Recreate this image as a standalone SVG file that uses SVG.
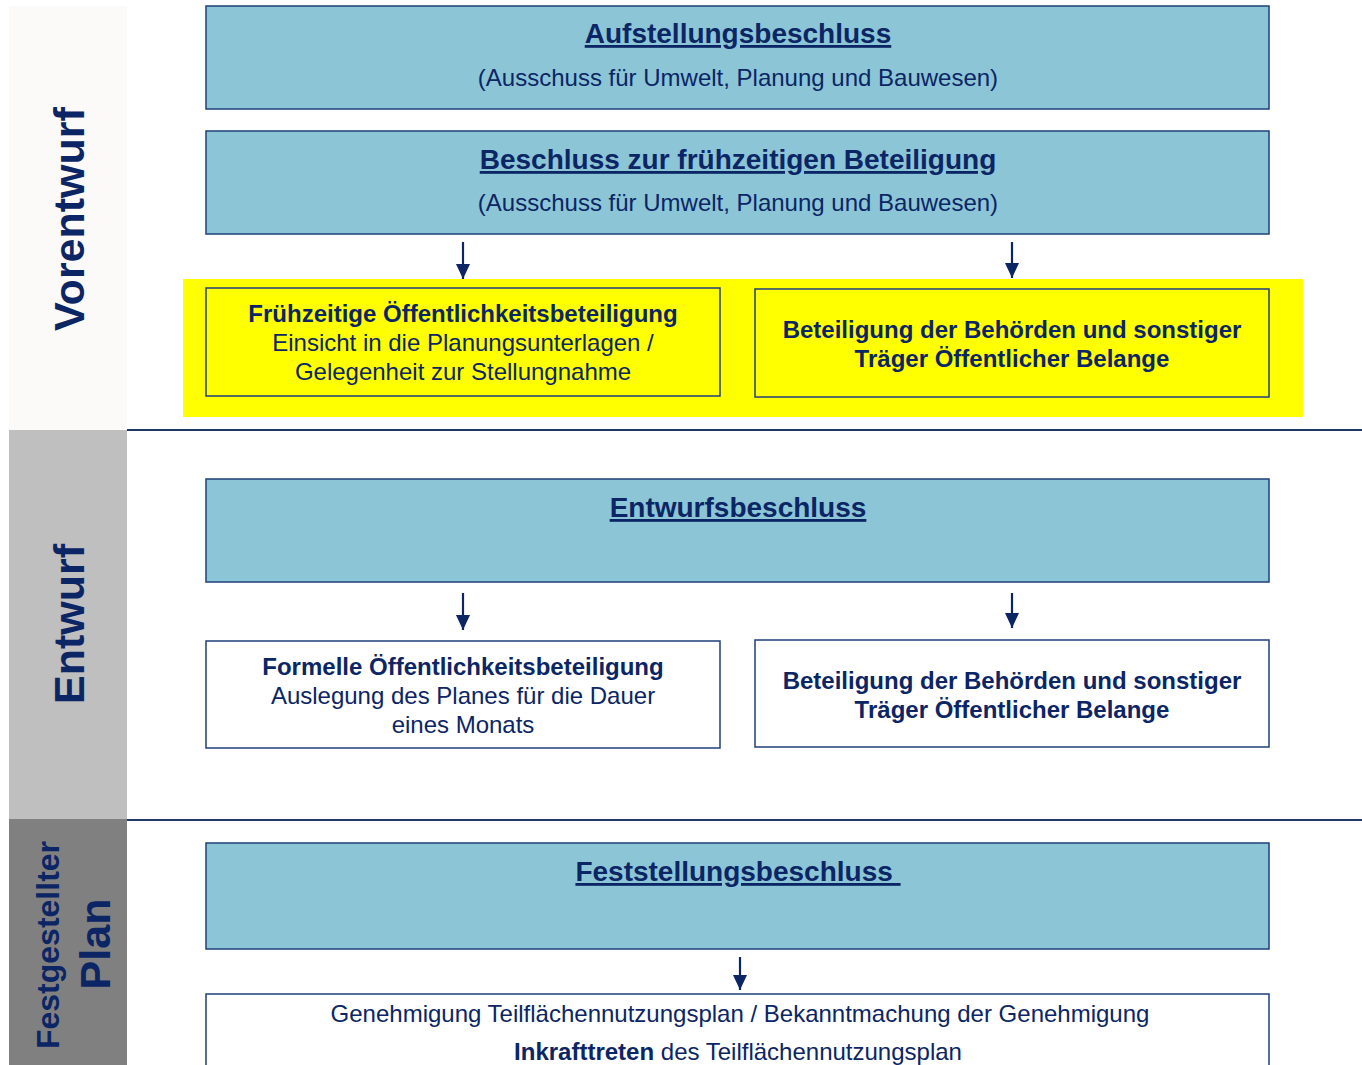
<svg xmlns="http://www.w3.org/2000/svg" width="1362" height="1065" viewBox="0 0 1362 1065">
<style>
.t{font-family:"Liberation Sans",Arial,sans-serif;fill:#0B2565;text-anchor:middle}
.title{font-size:28px;font-weight:bold;text-decoration:underline}
.sub{font-size:24px}
.b{font-size:24px;font-weight:bold}
.r{font-size:24px}
.blue{fill:#8CC5D6;stroke:#1F3F7A;stroke-width:1.5}
.white{fill:#FFFFFF;stroke:#1F3F7A;stroke-width:1.5}
.conn{stroke:#0B2565;stroke-width:2.2;fill:none}
.band{font-family:"Liberation Sans",Arial,sans-serif;fill:#0B2565;font-weight:bold;text-anchor:middle}
</style>
<defs>
<marker id="ah" markerUnits="userSpaceOnUse" markerWidth="16" markerHeight="16" refX="15" refY="7" orient="auto" viewBox="0 0 16 14">
<path d="M0,0 L15,7 L0,14 Z" fill="#0B2565"/>
</marker>
</defs>
<rect width="1362" height="1065" fill="#FFFFFF"/>
<g id="bands">
<rect x="9" y="6" width="118" height="424" fill="#FBFAF8"/>
<rect x="9" y="430" width="118" height="389" fill="#BFBFBF"/>
<rect x="9" y="819" width="118" height="246" fill="#808080"/>
<text class="band" font-size="43" transform="translate(84,219) rotate(-90)">Vorentwurf</text>
<text class="band" font-size="43" transform="translate(84,624) rotate(-90)">Entwurf</text>
<text class="band" font-size="32" transform="translate(59,945) rotate(-90)">Festgestellter</text>
<text class="band" font-size="43" transform="translate(110,944) rotate(-90)">Plan</text>
<line x1="127" y1="430" x2="1362" y2="430" stroke="#1F3864" stroke-width="2"/>
<line x1="127" y1="820" x2="1362" y2="820" stroke="#1F3864" stroke-width="2"/>
</g>
<rect id="highlight" x="183" y="279" width="1120" height="138" fill="#FFFF00"/>
<g id="n1">
<rect class="blue" x="206" y="6" width="1063" height="103"/>
<text class="t title" x="738" y="43">Aufstellungsbeschluss</text>
<text class="t sub" x="738" y="86">(Ausschuss für Umwelt, Planung und Bauwesen)</text>
</g>
<g id="n2">
<rect class="blue" x="206" y="131" width="1063" height="103"/>
<text class="t title" x="738" y="169">Beschluss zur frühzeitigen Beteiligung</text>
<text class="t sub" x="738" y="211">(Ausschuss für Umwelt, Planung und Bauwesen)</text>
</g>
<g id="n3">
<rect x="206" y="288" width="514" height="108" fill="none" stroke="#1F3F7A" stroke-width="1.5"/>
<text class="t b" x="463" y="322">Frühzeitige Öffentlichkeitsbeteiligung</text>
<text class="t r" x="463" y="351">Einsicht in die Planungsunterlagen /</text>
<text class="t r" x="463" y="380">Gelegenheit zur Stellungnahme</text>
</g>
<g id="n4">
<rect x="755" y="289" width="514" height="108" fill="none" stroke="#1F3F7A" stroke-width="1.5"/>
<text class="t b" x="1012" y="338">Beteiligung der Behörden und sonstiger</text>
<text class="t b" x="1012" y="367">Träger Öffentlicher Belange</text>
</g>
<g id="n5">
<rect class="blue" x="206" y="479" width="1063" height="103"/>
<text class="t title" x="738" y="517">Entwurfsbeschluss</text>
</g>
<g id="n6">
<rect class="white" x="206" y="641" width="514" height="107"/>
<text class="t b" x="463" y="675">Formelle Öffentlichkeitsbeteiligung</text>
<text class="t r" x="463" y="704">Auslegung des Planes für die Dauer</text>
<text class="t r" x="463" y="733">eines Monats</text>
</g>
<g id="n7">
<rect class="white" x="755" y="640" width="514" height="107"/>
<text class="t b" x="1012" y="689">Beteiligung der Behörden und sonstiger</text>
<text class="t b" x="1012" y="718">Träger Öffentlicher Belange</text>
</g>
<g id="n8">
<rect class="blue" x="206" y="843" width="1063" height="106"/>
<text class="t title" x="738" y="881">Feststellungsbeschluss&#160;</text>
</g>
<g id="n9">
<rect class="white" x="206" y="994" width="1063" height="90"/>
<text class="t r" x="740" y="1022">Genehmigung Teilflächennutzungsplan / Bekanntmachung der Genehmigung</text>
<text class="t r" x="738" y="1060"><tspan font-weight="bold">Inkrafttreten</tspan> des Teilflächennutzungsplan</text>
</g>
<g id="connectors">
<line class="conn" x1="463" y1="242" x2="463" y2="279" marker-end="url(#ah)"/>
<line class="conn" x1="1012" y1="242" x2="1012" y2="278" marker-end="url(#ah)"/>
<line class="conn" x1="463" y1="593" x2="463" y2="630" marker-end="url(#ah)"/>
<line class="conn" x1="1012" y1="593" x2="1012" y2="628" marker-end="url(#ah)"/>
<line class="conn" x1="740" y1="957" x2="740" y2="990" marker-end="url(#ah)"/>
</g>
</svg>
